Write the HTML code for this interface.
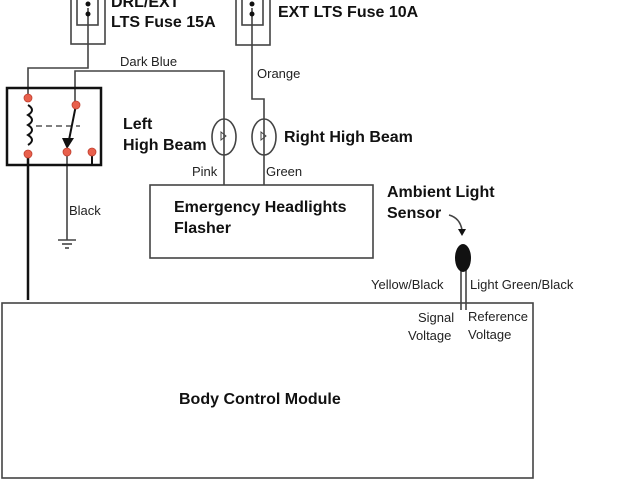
<!DOCTYPE html>
<html><head><style>
body{margin:0;background:#fff;}
svg{display:block;font-family:"Liberation Sans",sans-serif;}
.b{font-weight:bold;font-size:16px;fill:#111}
.s{font-size:13px;fill:#222}
</style></head><body>
<svg width="640" height="480" viewBox="0 0 640 480">
<g fill="none" stroke="#444" stroke-width="1.6">
<rect x="71" y="-2" width="34" height="46"/>
<rect x="77" y="-2" width="21" height="27"/>
<rect x="236" y="-2" width="34" height="47"/>
<rect x="242" y="-2" width="21" height="27"/>
<polyline points="88,8 88,68 28,68 28,98"/>
<polyline points="75,105 75,71 224,71 224,185"/>
<polyline points="252,8 252,99 264,99 264,185"/>
<ellipse cx="224" cy="137" rx="12" ry="18"/>
<ellipse cx="264" cy="137" rx="12" ry="18"/>
<rect x="150" y="185" width="223" height="73"/>
<line x1="67" y1="152" x2="67" y2="240"/>
<line x1="58" y1="240" x2="76" y2="240"/>
<line x1="62" y1="244" x2="72" y2="244"/>
<line x1="65" y1="248" x2="69" y2="248"/>
<rect x="2" y="303" width="531" height="175"/>
<line x1="461" y1="265" x2="461" y2="310"/>
<line x1="466" y1="265" x2="466" y2="310"/>
<path d="M449 215 Q460 218 462 230"/>
</g>
<g stroke="#111" fill="none">
<rect x="7" y="88" width="94" height="77" stroke-width="2.5"/>
<line x1="28" y1="154" x2="28" y2="300" stroke-width="2.5"/>
<path d="M28 105 q8 5 0 10 q8 5 0 10 q8 5 0 10 q8 5 0 10" stroke-width="2"/>
<line x1="36" y1="126" x2="80" y2="126" stroke-dasharray="6,4" stroke="#555" stroke-width="1.5"/>
<line x1="76" y1="105" x2="69" y2="140" stroke-width="2"/>
<line x1="92" y1="152" x2="92" y2="165" stroke-width="2"/>
</g>
<polygon points="62,138 74,138 67,149" fill="#111"/>
<polygon points="458,229 466,229 462,236" fill="#111"/>
<g fill="#111">
<circle cx="88" cy="4" r="2.5"/><circle cx="88" cy="14" r="2.5"/>
<circle cx="252" cy="4" r="2.5"/><circle cx="252" cy="14" r="2.5"/>
<ellipse cx="463" cy="258" rx="8" ry="14"/>
</g>
<g fill="#e8604c" stroke="#c04030" stroke-width="0.8">
<circle cx="28" cy="98" r="4"/><circle cx="76" cy="105" r="4"/>
<circle cx="28" cy="154" r="4"/><circle cx="67" cy="152" r="4"/><circle cx="92" cy="152" r="4"/>
</g>
<g stroke="#444" fill="none" stroke-width="1"><path d="M221 132 l5 4 -5 4 z"/><path d="M261 132 l5 4 -5 4 z"/></g>
<text class="b" x="111" y="7">DRL/EXT</text>
<text class="b" x="111" y="27">LTS Fuse 15A</text>
<text class="b" x="278" y="17">EXT LTS Fuse 10A</text>
<text class="s" x="120" y="66">Dark Blue</text>
<text class="s" x="257" y="78">Orange</text>
<text class="b" x="123" y="129">Left</text>
<text class="b" x="123" y="150">High Beam</text>
<text class="b" x="284" y="142">Right High Beam</text>
<text class="s" x="192" y="176">Pink</text>
<text class="s" x="266" y="176">Green</text>
<text class="s" x="69" y="215">Black</text>
<text class="b" x="174" y="212">Emergency Headlights</text>
<text class="b" x="174" y="233">Flasher</text>
<text class="b" x="387" y="197">Ambient Light</text>
<text class="b" x="387" y="218">Sensor</text>
<text class="s" x="371" y="289">Yellow/Black</text>
<text class="s" x="470" y="289">Light Green/Black</text>
<text class="s" x="418" y="322">Signal</text>
<text class="s" x="408" y="340">Voltage</text>
<text class="s" x="468" y="321">Reference</text>
<text class="s" x="468" y="339">Voltage</text>
<text class="b" x="179" y="404">Body Control Module</text>
</svg>
</body></html>
